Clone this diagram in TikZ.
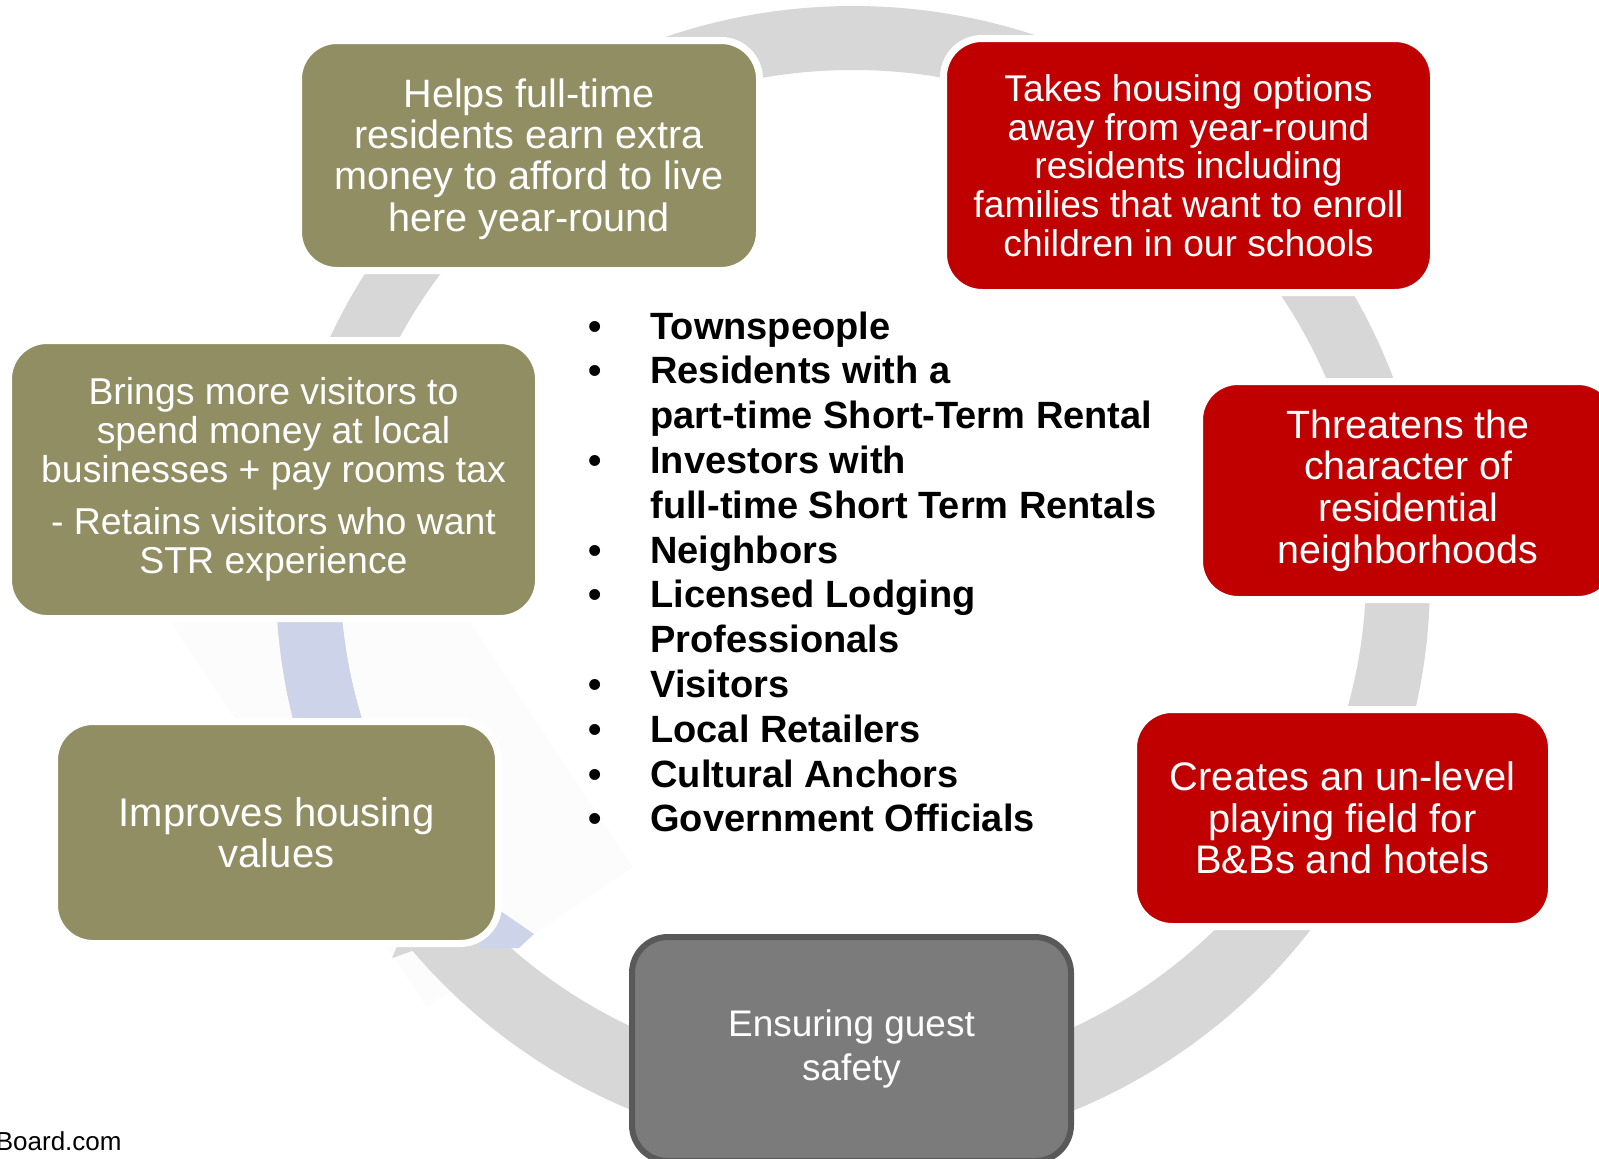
\documentclass[tikz,border=0pt]{standalone}
\usepackage{fontspec}
\setmainfont{Liberation Sans}
\definecolor{boxolive}{HTML}{918E63}
\definecolor{boxred}{HTML}{C00000}
\definecolor{ringgray}{HTML}{D7D7D7}
\definecolor{ringblue}{HTML}{CDD4E9}
\definecolor{faintgray}{HTML}{FCFCFC}
\definecolor{ensfill}{HTML}{7B7B7B}
\definecolor{ensborder}{HTML}{595959}
\newcommand{\blt}{\llap{\makebox[55pt][c]{\fontsize{19}{19}\selectfont\textbullet}}}
\begin{document}
\begin{tikzpicture}[x=0.5pt,y=-0.5pt,
  card/.style={rounded corners=19.25pt, draw=white, line width=3.5pt, text=white, align=center, inner sep=0pt},
  olivecard/.style={card, fill=boxolive},
  redcard/.style={card, fill=boxred},
  ring/.style={even odd rule}]
\useasboundingbox (0,0) rectangle (1599,1158);
\clip (0,0) rectangle (1599,1158);

% faint overlay shape
\fill[faintgray] (427,1007) -- (633,867) -- (322,400) -- (116,540) -- cycle;

% ring
\fill[ringgray, ring] (853,580) ellipse [x radius=288.5pt, y radius=287pt]
                      (853,573) ellipse [x radius=256.5pt, y radius=251.5pt];
\begin{scope}
  \clip (0,560) rectangle (620,905);
  \fill[ringblue, ring] (853,580) ellipse [x radius=288.5pt, y radius=287pt]
                        (853,573) ellipse [x radius=256.5pt, y radius=251.5pt];
\end{scope}
\fill[ringblue] (480,897) -- (534,934) -- (519,948) -- (480,948) -- cycle;
\fill[ringgray] (392,958) -- (398,944) -- (432,944) -- cycle;

% boxes
\node[olivecard, minimum width=230.5pt, minimum height=115pt,
      font=\fontsize{19.8}{20.7}\selectfont] (helps) at (529,155.5)
  {\\[-3pt]Helps full-time\\residents earn extra\\money to afford to live\\here year-round};
\node[redcard, minimum width=245pt, minimum height=127pt,
      font=\fontsize{18.6}{19.4}\selectfont] (takes) at (1188.5,165.5)
  {Takes housing options\\away from year-round\\residents including\\families that want to enroll\\children in our schools};
\node[olivecard, minimum width=265pt, minimum height=139pt,
      font=\fontsize{18.7}{19.4}\selectfont] (brings) at (273.5,479.5)
  {Brings more visitors to\\spend money at local\\businesses + pay rooms tax\\[7pt]- Retains visitors who want\\STR experience};
\node[redcard, minimum width=208.5pt, minimum height=109pt,
      font=\fontsize{19.7}{20.9}\selectfont] (threat) at (1408,490.5)
  {Threatens the\\character of\\residential\\neighborhoods};
\node[redcard, minimum width=209pt, minimum height=108.5pt,
      font=\fontsize{19.9}{20.65}\selectfont] (creates) at (1342.5,818)
  {Creates an un-level\\playing field for\\B\&Bs and hotels};
\node[olivecard, minimum width=222pt, minimum height=111pt,
      font=\fontsize{20}{20.2}\selectfont] (improves) at (276.5,832.5)
  {Improves housing\\values};
\node[card, fill=ensfill, draw=ensborder, line width=3pt, rounded corners=18pt,
      minimum width=219.5pt, minimum height=112pt,
      font=\fontsize{18.5}{22}\selectfont] (ensure) at (851.5,1049)
  {Ensuring guest\\safety};

% bullet list
\node[anchor=base west, inner sep=0pt, font=\bfseries\fontsize{19}{22.4}\selectfont] (list) at (650,339)
  {\begin{tabular}[t]{@{}l@{}}
   \blt Townspeople\\
   \blt Residents with a\\
   part-time Short-Term Rental\\
   \blt Investors with\\
   full-time Short Term Rentals\\
   \blt Neighbors\\
   \blt Licensed Lodging\\
   Professionals\\
   \blt Visitors\\
   \blt Local Retailers\\
   \blt Cultural Anchors\\
   \blt Government Officials
   \end{tabular}};

% source text
\node[anchor=base east, inner sep=0pt, font=\fontsize{13}{15}\selectfont] (src) at (122,1150) {Board.com};
\end{tikzpicture}
\end{document}
